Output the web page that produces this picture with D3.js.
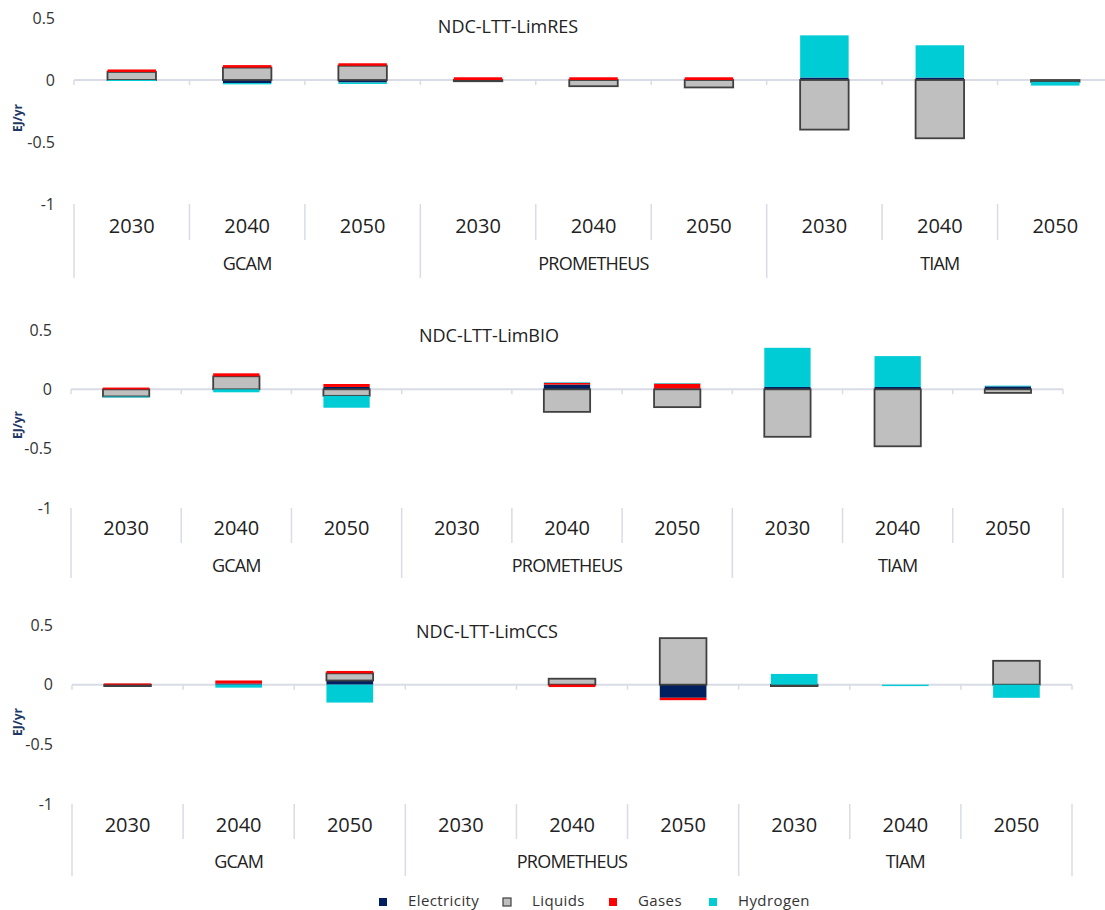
<!DOCTYPE html>
<html>
<head>
<meta charset="utf-8">
<script src="https://cdn.jsdelivr.net/npm/d3@7"></script>
<style>
  body { margin: 0; background: #fff; }
  svg { display: block; font-family: 'Open Sans', sans-serif; }
</style>
</head>
<body>
<div id="chart"></div>
<script>
// categories
const models = ['GCAM', 'PROMETHEUS', 'TIAM'];
const years = ['2030', '2040', '2050'];
const seriesNames = ['Electricity', 'Liquids', 'Gases', 'Hydrogen'];
const panelTitles = ['NDC-LTT-LimRES', 'NDC-LTT-LimBIO', 'NDC-LTT-LimCCS'];
const yTicks = [0.5, 0, -0.5, -1];

// values: GCAM 2030/40/50, PROMETHEUS 2030/40/50, TIAM 2030/40/50  (EJ/yr)
const limresElectricity = [0, -0.025, -0.02, 0, 0, 0, 0.02, 0.02, 0];
const limresLiquids     = [0.065, 0.1, 0.115, -0.01, -0.05, -0.06, -0.40, -0.47, -0.015];
const limresGases       = [0.02, 0.02, 0.02, 0.022, 0.022, 0.022, 0, 0, 0];
const limresHydrogen    = [-0.008, -0.01, -0.012, 0, 0, 0, 0.34, 0.26, -0.03];

const limbioElectricity = [0, 0, 0.02, 0, 0.04, 0.008, 0.02, 0.02, 0.025];
const limbioLiquids     = [-0.06, 0.11, -0.055, 0, -0.19, -0.15, -0.40, -0.48, -0.03];
const limbioGases       = [0.015, 0.025, 0.025, 0, 0.015, 0.04, 0, 0, 0];
const limbioHydrogen    = [-0.008, -0.025, -0.10, 0, 0.005, 0.005, 0.33, 0.26, 0.006];

const limccsElectricity = [0, 0.01, 0.035, 0, 0, -0.11, 0, 0, 0];
const limccsLiquids     = [-0.012, 0, 0.06, 0, 0.05, 0.39, -0.012, 0, 0.2];
const limccsGases       = [0.01, 0.025, 0.02, 0, -0.02, -0.02, 0, 0, 0];
const limccsHydrogen    = [0, -0.025, -0.15, 0, 0, 0, 0.09, -0.012, -0.11];

const panelValues = [
  [limresElectricity, limresLiquids, limresGases, limresHydrogen],
  [limbioElectricity, limbioLiquids, limbioGases, limbioHydrogen],
  [limccsElectricity, limccsLiquids, limccsGases, limccsHydrogen]
];

const colors = {Electricity: '#002060', Liquids: '#bfbfbf', Gases: '#ff0000', Hydrogen: '#00ccd6'};
const gridColor = '#d9dce6';

// panel layout (px)
const panels = [
  {left: 74, right: 1113, yTop: 18,  yBot: 204, titleX: 508, titleY: 28,  yearY: 228, groupY: 265, catEnd: 240, groupEnd: 278, labelY: 118},
  {left: 71, right: 1063, yTop: 330, yBot: 508, titleX: 489, titleY: 337, yearY: 530, groupY: 567, catEnd: 543, groupEnd: 578, labelY: 425},
  {left: 72, right: 1072, yTop: 625, yBot: 804, titleX: 487, titleY: 633, yearY: 827, groupY: 863, catEnd: 839, groupEnd: 876, labelY: 722}
];

const svg = d3.select('#chart').append('svg')
  .attr('width', 1105)
  .attr('height', 910);

const keys = [];
models.forEach(m => years.forEach(y => keys.push(m + '|' + y)));

panels.forEach((p, pi) => {
  const g = svg.append('g').attr('class', 'panel');

  const x = d3.scaleBand().domain(keys).range([p.left, p.right])
    .paddingInner(0.58).paddingOuter(0.29);
  const step = x.step();
  const y = d3.scaleLinear().domain([-1, 0.5]).range([p.yBot, p.yTop]);

  // table for stacking
  const rows = keys.map((k, i) => {
    const r = {key: k};
    seriesNames.forEach((s, si) => { r[s] = panelValues[pi][si][i]; });
    return r;
  });
  const stacked = d3.stack().keys(seriesNames)
    .order(d3.stackOrderNone)
    .offset(d3.stackOffsetDiverging)(rows);

  // y axis labels
  const yAxis = g.append('g')
    .attr('transform', `translate(${p.left - 16},0)`)
    .call(d3.axisLeft(y).tickValues(yTicks).tickSize(0).tickFormat(d => String(d)));
  yAxis.select('.domain').remove();
  yAxis.selectAll('text')
    .style('font-family', "'Open Sans', sans-serif")
    .style('font-size', '16px')
    .attr('fill', '#333');

  // unit label
  g.append('text')
    .attr('transform', `translate(19,${p.labelY}) rotate(-90)`)
    .attr('text-anchor', 'middle')
    .attr('dominant-baseline', 'middle')
    .style('font-size', '12px')
    .style('font-weight', 'bold')
    .attr('fill', '#1f3864')
    .text('EJ/yr');

  // title
  g.append('text')
    .attr('x', p.titleX).attr('y', p.titleY)
    .attr('text-anchor', 'middle')
    .attr('dominant-baseline', 'middle')
    .style('font-size', '18px')
    .attr('fill', '#222')
    .text(panelTitles[pi]);

  // zero line and small ticks
  g.append('line')
    .attr('x1', p.left).attr('x2', p.right)
    .attr('y1', y(0)).attr('y2', y(0))
    .attr('stroke', gridColor).attr('stroke-width', 2);
  d3.range(keys.length + 1).forEach(i => {
    const xx = p.left + i * step;
    g.append('line')
      .attr('x1', xx).attr('x2', xx)
      .attr('y1', y(0)).attr('y2', y(0) + 5)
      .attr('stroke', gridColor).attr('stroke-width', 1.5);
  });

  // category separators below plot
  d3.range(keys.length + 1).forEach(i => {
    const xx = p.left + i * step;
    g.append('line')
      .attr('x1', xx).attr('x2', xx)
      .attr('y1', p.yBot).attr('y2', i % 3 === 0 ? p.groupEnd : p.catEnd)
      .attr('stroke', gridColor).attr('stroke-width', 1.5);
  });

  // year labels
  g.selectAll('.year').data(keys).enter().append('text')
    .attr('class', 'year')
    .attr('x', d => x(d) + x.bandwidth() / 2)
    .attr('y', p.yearY)
    .attr('text-anchor', 'middle')
    .attr('dominant-baseline', 'middle')
    .style('font-size', '20px')
    .attr('fill', '#222')
    .text(d => d.split('|')[1]);

  // model labels
  g.selectAll('.model').data(models).enter().append('text')
    .attr('class', 'model')
    .attr('x', (d, i) => p.left + (i * 3 + 1.5) * step)
    .attr('y', p.groupY)
    .attr('text-anchor', 'middle')
    .attr('dominant-baseline', 'middle')
    .style('font-size', '18px')
    .style('letter-spacing', '-0.8px')
    .attr('fill', '#222')
    .text(d => d);

  // bars
  const layers = g.selectAll('.layer').data(stacked).enter().append('g')
    .attr('class', 'layer')
    .attr('fill', d => colors[d.key])
    .attr('stroke', d => d.key === 'Liquids' ? '#404040' : 'none')
    .attr('stroke-width', 1.8);

  layers.selectAll('rect').data(d => d.filter(v => v[1] !== v[0]))
    .enter().append('rect')
    .attr('x', d => x(d.data.key))
    .attr('width', x.bandwidth())
    .attr('y', d => y(Math.max(d[0], d[1])))
    .attr('height', d => Math.abs(y(d[0]) - y(d[1])));
});

// legend
const legendX = [383, 507, 613, 713];
const legend = svg.append('g').attr('class', 'legend');
seriesNames.forEach((s, i) => {
  legend.append('rect')
    .attr('x', legendX[i] - 4).attr('y', 898)
    .attr('width', 8).attr('height', 8)
    .attr('fill', colors[s])
    .attr('stroke', s === 'Liquids' ? '#404040' : 'none')
    .attr('stroke-width', 1.2);
  legend.append('text')
    .attr('x', legendX[i] + 25).attr('y', 902)
    .attr('dominant-baseline', 'middle')
    .style('font-size', '15px')
    .style('letter-spacing', '0.4px')
    .attr('fill', '#333')
    .text(s);
});
</script>
</body>
</html>
